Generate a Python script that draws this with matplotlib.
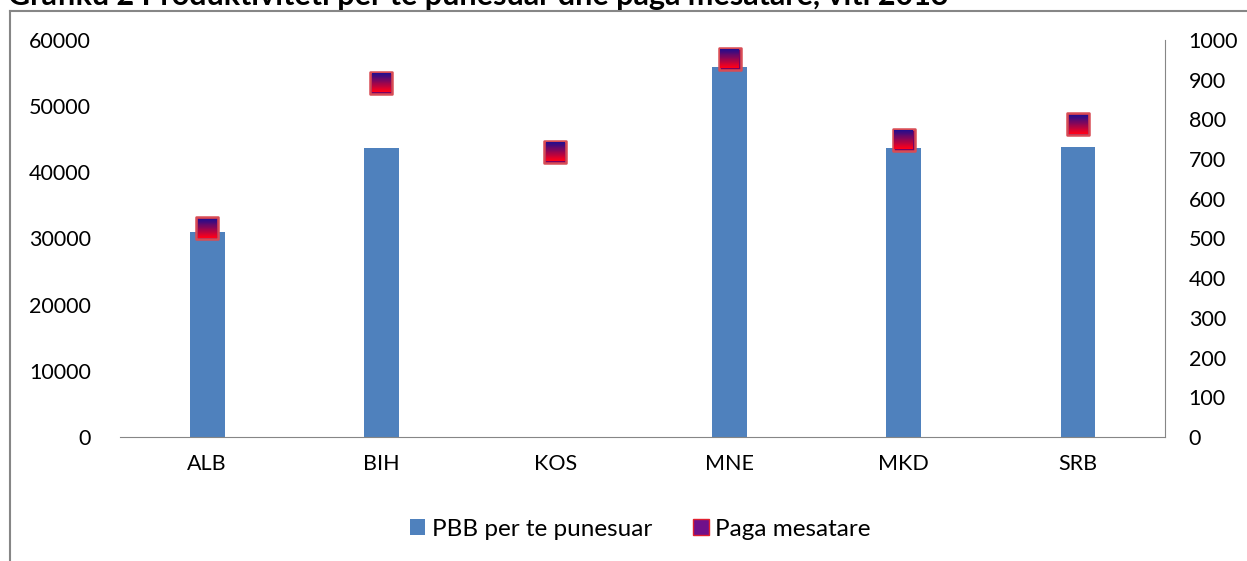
import numpy as np
import matplotlib.pyplot as plt
from matplotlib.offsetbox import OffsetImage, AnnotationBbox
from matplotlib.lines import Line2D
from matplotlib.patches import Patch

plt.rcParams['font.family'] = ['Lato', 'DejaVu Sans']

countries = ['ALB', 'BIH', 'KOS', 'MNE', 'MKD', 'SRB']
pbb = [31000, 43700, 0, 55900, 43700, 43800]
paga = [526, 892, 718, 952, 748, 788]
title = 'Grafiku 2 Produktiviteti per te punesuar dhe paga mesatare, viti 2013'

fig = plt.figure(figsize=(12.47, 5.61), dpi=100)
ax = fig.add_axes([120 / 1247, 124 / 561, 1045 / 1247, 397 / 561])
ax2 = ax.twinx()

x = np.arange(len(countries))
ax.bar(x, pbb, width=0.2, color='#4f81bd', zorder=2)
ax.set_xlim(-0.5, len(countries) - 0.5)
ax.set_ylim(0, 60000)
ax.set_yticks(np.arange(0, 60001, 10000))
ax.set_xticks(x)
ax.set_xticklabels(countries)
ax.tick_params(axis='y', length=0, labelsize=15.5, pad=21)
ax.tick_params(axis='x', length=0, labelsize=15.5, pad=12)
for s in ['left', 'top', 'right']:
    ax.spines[s].set_visible(False)
ax.spines['bottom'].set_color('#868686')

ax2.set_ylim(0, 1000)
ax2.set_yticks(np.arange(0, 1001, 100))
ax2.tick_params(axis='y', length=0, labelsize=15.5, pad=17)
for s in ['left', 'top', 'bottom']:
    ax2.spines[s].set_visible(False)
ax2.spines['right'].set_color('#868686')

# gradient square markers
grad = np.linspace(0, 1, 15)[:, None]
top = np.array([0.15, 0.05, 0.55])
bot = np.array([1.0, 0.0, 0.1])
img = (top * (1 - grad) + bot * grad)[:, :, None].transpose(0, 2, 1)
img = np.repeat(img, 15, axis=1)
ax2.scatter(x, paga, marker='s', s=260, facecolor='#7a0060', edgecolor='#d84c55',
            linewidth=1.8, zorder=3)
for xi, yi in zip(x, paga):
    ab = AnnotationBbox(OffsetImage(img, zoom=0.9), (xi, yi), frameon=False, zorder=4)
    ax2.add_artist(ab)

# legend
handles = [Patch(facecolor='#4f81bd', edgecolor='none'),
           Line2D([], [], marker='s', linestyle='none', markersize=11,
                  markerfacecolor='#70108a', markeredgecolor='#e02030')]
fig.legend(handles, ['PBB per te punesuar', 'Paga mesatare'], loc='center',
           bbox_to_anchor=(0.5 + 17 / 1247, 1 - 529 / 561), ncol=2, frameon=False,
           fontsize=17.5, handlelength=0.6, handleheight=0.6, handletextpad=0.3,
           columnspacing=1.7)

# chart frame
fig.add_artist(Line2D([10 / 1247, 10 / 1247], [0, 1 - 11 / 561], color='#868686', lw=1.5))
fig.add_artist(Line2D([10 / 1247, 1], [1 - 11 / 561, 1 - 11 / 561], color='#868686', lw=1.5))

fig.text(8 / 1247, 1 - 5 / 561, title, fontsize=22, fontweight='bold', va='baseline', ha='left')

fig.savefig('out.png', dpi=100)
